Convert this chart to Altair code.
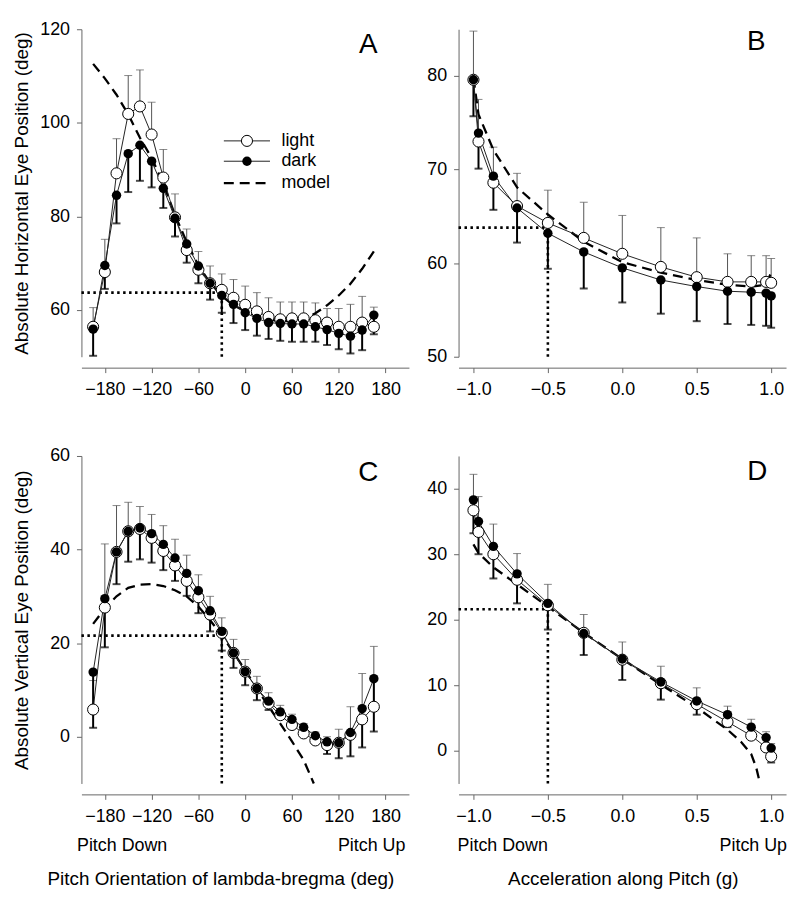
import altair as alt
import pandas as pd

FONT = "Liberation Sans"

# ---------------- Panel A : horizontal eye position vs pitch orientation ----------------
A_x = [-195, -180, -165, -150, -135, -120, -105, -90, -75, -60, -45, -30, -15,
       0, 15, 30, 45, 60, 75, 90, 105, 120, 135, 150, 165]
A_light = [56.4, 68.1, 89.2, 101.9, 103.5, 97.5, 88.3, 79.8, 72.8, 68.6, 65.7, 64.3, 62.6,
           61.1, 59.7, 58.5, 58.0, 58.2, 58.2, 57.8, 57.3, 56.4, 56.4, 57.3, 56.4]
A_light_hi = [60.5, 75.1, 96.6, 110.1, 111.3, 104.4, 94.3, 84.8, 77.3, 72.5, 69.4, 67.7, 66.5,
              65.1, 63.7, 62.6, 61.7, 61.7, 61.7, 61.5, 60.3, 60.3, 61.2, 62.9, 60.6]
A_dark = [55.9, 69.5, 84.5, 93.4, 95.2, 91.8, 86.0, 79.6, 74.1, 69.4, 65.7, 63.1, 61.2,
          59.4, 58.2, 57.3, 57.1, 57.0, 57.0, 56.4, 55.8, 55.0, 54.4, 55.7, 58.9]
A_dark_lo = [50.2, 64.5, 78.5, 85.2, 87.6, 86.2, 81.8, 75.7, 70.1, 65.7, 62.2, 59.4, 57.2,
             55.7, 54.5, 53.8, 53.4, 53.2, 53.2, 53.2, 52.5, 51.6, 50.7, 51.4, 54.8]
A_model_x = A_x
A_model = [112.6, 109.5, 106.0, 101.8, 96.8, 92.5, 87.0, 80.3, 74.5, 69.5, 65.8, 63.0, 61.0,
           59.7, 58.7, 58.0, 57.6, 57.6, 58.0, 59.3, 61.0, 63.1, 65.6, 68.8, 72.5]
A_ref = (-30, 63.7)

# ---------------- Panel B : horizontal eye position vs acceleration ----------------
B_x = [-1.0, -0.966, -0.866, -0.707, -0.5, -0.259, 0.0, 0.259, 0.5, 0.707, 0.866, 0.966, 1.0]
B_light = [79.6, 73.0, 68.6, 66.1, 64.3, 62.7, 61.0, 59.6, 58.5, 58.0, 58.0, 58.0, 57.9]
B_light_hi = [84.8, 77.5, 72.4, 69.6, 67.8, 66.5, 65.1, 63.8, 62.7, 61.0, 60.8, 60.8, 60.5]
B_dark = [79.6, 73.9, 69.3, 65.9, 63.2, 61.2, 59.5, 58.2, 57.5, 57.0, 56.9, 56.8, 56.5]
B_dark_lo = [75.7, 70.1, 65.7, 62.2, 59.4, 57.3, 55.8, 54.6, 53.8, 53.5, 53.4, 53.3, 53.1]
B_model_x = B_x
B_model = [79.8, 75.9, 72.1, 68.1, 65.2, 62.3, 60.1, 59.0, 58.2, 57.7, 57.5, 57.7, 59.0]
B_ref = (-0.5, 63.8)

# ---------------- Panel C : vertical eye position vs pitch orientation ----------------
C_x = A_x
C_light = [5.8, 27.6, 39.5, 43.9, 44.4, 42.5, 39.7, 36.6, 33.3, 29.8, 26.1, 22.2, 17.9,
           13.9, 10.3, 7.1, 4.6, 2.5, 0.7, -0.8, -1.8, -1.3, 0.4, 3.7, 6.4]
C_light_hi = [12.0, 41.2, 49.4, 50.1, 49.2, 47.5, 45.1, 42.2, 38.8, 34.6, 30.0, 25.4, 20.8,
              16.5, 12.9, 9.4, 6.7, 4.8, 2.8, 1.0, 0.0, 1.6, 6.4, 13.5, 19.3]
C_dark = [13.8, 29.5, 39.5, 43.9, 44.6, 43.4, 41.1, 38.2, 34.9, 31.2, 26.9, 22.5, 17.9,
          13.9, 10.3, 7.6, 5.3, 3.7, 2.0, 0.2, -1.1, -1.3, 0.9, 6.0, 12.4]
C_dark_lo = [1.9, 19.1, 32.6, 37.4, 37.9, 37.2, 35.6, 33.3, 30.1, 26.4, 22.5, 18.4, 14.7,
             11.0, 7.8, 5.7, 3.9, 2.5, 0.7, -1.4, -3.7, -4.6, -4.2, -2.3, 1.1]
C_model_x = [-195, -180, -165, -150, -135, -120, -105, -90, -75, -60, -45, -30, -15,
             0, 15, 30, 45, 60, 75, 88]
C_model = [24.1, 27.4, 30.0, 31.8, 32.5, 32.6, 32.2, 31.3, 30.0, 27.8, 24.9, 21.6, 18.0,
           14.2, 10.3, 6.5, 2.8, -1.0, -5.0, -10.0]
C_ref = (-30, 21.6)

# ---------------- Panel D : vertical eye position vs acceleration ----------------
D_x = B_x
D_light = [36.7, 33.4, 30.0, 26.1, 22.2, 18.0, 13.9, 10.3, 7.1, 4.4, 2.3, 0.5, -0.9]
D_light_hi = [42.2, 38.8, 34.6, 30.1, 25.4, 20.8, 16.6, 12.9, 9.6, 6.8, 4.8, 2.9, 1.1]
D_dark = [38.3, 35.0, 31.2, 27.0, 22.5, 17.9, 14.0, 10.5, 7.6, 5.5, 3.6, 2.0, 0.4]
D_dark_lo = [33.2, 30.0, 26.3, 22.5, 18.5, 14.6, 10.8, 7.8, 5.5, 3.6, 2.0, 0.3, -1.8]
D_model_x = [-1.0, -0.966, -0.866, -0.707, -0.5, -0.259, 0.0, 0.259, 0.5, 0.707, 0.8, 0.866, 0.9, 0.925]
D_model = [31.5, 30.2, 28.0, 25.4, 22.0, 18.0, 14.0, 10.1, 6.6, 3.2, 1.3, -0.5, -2.6, -5.0]
D_ref = (-0.5, 21.6)

# ---------------- Axes / labels ----------------
ANGLE_TICKS = [-180, -120, -60, 0, 60, 120, 180]
ACC_TICKS = [-1.0, -0.5, 0.0, 0.5, 1.0]
A_YTICKS = [60, 80, 100, 120]
B_YTICKS = [50, 60, 70, 80]
C_YTICKS = [0, 20, 40, 60]
D_YTICKS = [0, 10, 20, 30, 40]
LEGEND_LABELS = ["light", "dark", "model"]
W, H = 330, 330


def panel(x, light, light_hi, dark, dark_lo, mx, my, ref, xdom, ydom, xticks, yticks,
          xfmt, ytitle, letter, letter_xy, legend=False, bottom=None):
    df = pd.DataFrame({"x": x, "light": light, "light_hi": light_hi,
                       "dark": dark, "dark_lo": dark_lo})
    mdf = pd.DataFrame({"x": mx, "y": my})
    xs = alt.Scale(domain=xdom, nice=False, zero=False)
    ys = alt.Scale(domain=ydom, nice=False, zero=False)
    xaxis = alt.Axis(values=xticks, format=xfmt, title=None, offset=11)
    if ytitle:
        yaxis = alt.Axis(values=yticks, title=ytitle, titleX=-60, titleY=H / 2,
                         titleAngle=-90, titleBaseline="middle", titleAlign="center")
    else:
        yaxis = alt.Axis(values=yticks, title=None)
    X = alt.X("x:Q", scale=xs, axis=xaxis)

    refdf_h = pd.DataFrame({"x": [xdom[0]], "x2": [ref[0]], "y": [ref[1]]})
    refdf_v = pd.DataFrame({"x": [ref[0]], "y": [ydom[0]], "y2": [ref[1]]})
    dot = dict(strokeDash=[2.5, 3.5], strokeWidth=2.6, color="black")
    ref_h = alt.Chart(refdf_h).mark_rule(**dot).encode(
        x=X, x2="x2:Q", y=alt.Y("y:Q", scale=ys, axis=yaxis))
    ref_v = alt.Chart(refdf_v).mark_rule(**dot).encode(
        x=X, y=alt.Y("y:Q", scale=ys, axis=yaxis), y2="y2:Q")

    model = alt.Chart(mdf).mark_line(strokeDash=[10, 6], strokeWidth=2.3, color="black").encode(
        x=X, y=alt.Y("y:Q", scale=ys, axis=yaxis))

    base = alt.Chart(df)
    Yl = alt.Y("light:Q", scale=ys, axis=yaxis)
    Yd = alt.Y("dark:Q", scale=ys, axis=yaxis)
    err_l = base.mark_rule(color="#555555", strokeWidth=1).encode(x=X, y=Yl, y2="light_hi:Q")
    cap_l = base.mark_tick(orient="horizontal", size=8, thickness=1, color="#555555").encode(
        x=X, y=alt.Y("light_hi:Q", scale=ys, axis=yaxis))
    err_d = base.mark_rule(color="black", strokeWidth=2).encode(x=X, y=Yd, y2="dark_lo:Q")
    cap_d = base.mark_tick(orient="horizontal", size=8, thickness=2, color="black").encode(
        x=X, y=alt.Y("dark_lo:Q", scale=ys, axis=yaxis))
    line_l = base.mark_line(color="#222222", strokeWidth=1).encode(x=X, y=Yl)
    line_d = base.mark_line(color="#222222", strokeWidth=1).encode(x=X, y=Yd)
    pts_l = base.mark_point(shape="circle", filled=True, fill="white", stroke="black",
                            strokeWidth=1, size=125, opacity=1).encode(x=X, y=Yl)
    pts_d = base.mark_circle(size=90, color="black", opacity=1).encode(x=X, y=Yd)

    letter_df = pd.DataFrame({"t": [letter]})
    let = alt.Chart(letter_df).mark_text(fontSize=28, font=FONT, align="center",
                                         baseline="middle").encode(
        text="t:N", x=alt.value(letter_xy[0]), y=alt.value(letter_xy[1]))

    layers = [ref_h, ref_v, err_l, cap_l, err_d, cap_d, model, line_l, line_d, pts_l, pts_d, let]

    if legend:
        rows_y = [112.5, 133, 155]
        for lab, yy in zip(LEGEND_LABELS, rows_y):
            one = pd.DataFrame({"t": [lab]})
            c1 = alt.Chart(one)
            if lab == "model":
                layers.append(c1.mark_rule(strokeDash=[10, 6], strokeWidth=2.3, color="black").encode(
                    x=alt.value(143.5), x2=alt.value(190), y=alt.value(yy)))
            else:
                layers.append(c1.mark_rule(strokeWidth=1, color="#222222").encode(
                    x=alt.value(143.5), x2=alt.value(190), y=alt.value(yy)))
                if lab == "light":
                    layers.append(c1.mark_point(shape="circle", filled=True, fill="white",
                                                stroke="black", strokeWidth=1, size=125,
                                                opacity=1).encode(
                        x=alt.value(166.8), y=alt.value(yy)))
                else:
                    layers.append(c1.mark_circle(size=90, color="black", opacity=1).encode(
                        x=alt.value(166.8), y=alt.value(yy)))
            layers.append(c1.mark_text(fontSize=18, font=FONT, align="left",
                                       baseline="middle").encode(
                text="t:N", x=alt.value(201.5), y=alt.value(yy)))

    if bottom:
        left_lab, right_lab, title, lx, rx, tx = bottom
        layers.append(alt.Chart(pd.DataFrame({"t": [left_lab]})).mark_text(
            fontSize=18, font=FONT, align="left", baseline="middle").encode(
            text="t:N", x=alt.value(lx), y=alt.value(393)))
        layers.append(alt.Chart(pd.DataFrame({"t": [right_lab]})).mark_text(
            fontSize=18, font=FONT, align="right", baseline="middle").encode(
            text="t:N", x=alt.value(rx), y=alt.value(393)))
        layers.append(alt.Chart(pd.DataFrame({"t": [title]})).mark_text(
            fontSize=19, font=FONT, align="center", baseline="middle").encode(
            text="t:N", x=alt.value(tx), y=alt.value(426)))

    return alt.layer(*layers).properties(width=W, height=H)


pA = panel(A_x, A_light, A_light_hi, A_dark, A_dark_lo, A_model_x, A_model, A_ref,
           [-210, 210], [50, 120], ANGLE_TICKS, A_YTICKS, "d",
           "Absolute Horizontal Eye Position (deg)", "A", (289, 16), legend=True)
pB = panel(B_x, B_light, B_light_hi, B_dark, B_dark_lo, B_model_x, B_model, B_ref,
           [-1.1, 1.1], [50, 85], ACC_TICKS, B_YTICKS, ".1f", None, "B", (300, 13))
pC = panel(C_x, C_light, C_light_hi, C_dark, C_dark_lo, C_model_x, C_model, C_ref,
           [-210, 210], [-10, 60], ANGLE_TICKS, C_YTICKS, "d",
           "Absolute Vertical Eye Position (deg)", "C", (289, 17),
           bottom=("Pitch Down", "Pitch Up", "Pitch Orientation of lambda-bregma (deg)",
                   -4.5, 326.5, 140.5))
pD = panel(D_x, D_light, D_light_hi, D_dark, D_dark_lo, D_model_x, D_model, D_ref,
           [-1.1, 1.1], [-5, 45], ACC_TICKS, D_YTICKS, ".1f", None, "D", (301, 16),
           bottom=("Pitch Down", "Pitch Up", "Acceleration along Pitch (g)",
                   -1, 331, 166))

chart = alt.concat(pA, pB, pC, pD, columns=2,
                   spacing={"row": 100, "column": 50},
                   bounds="flush").properties(
    padding={"left": 5, "top": 9, "right": 5, "bottom": 5},
    background="white",
).configure_view(stroke=None).configure_axis(
    labelFont=FONT, titleFont=FONT, labelFontSize=18, titleFontSize=19,
    titleFontWeight="normal", labelColor="black", titleColor="black",
    domainColor="#666666", tickColor="#666666", tickSize=5, grid=False,
).configure_axisX(labelPadding=8).configure_axisY(labelPadding=7)

chart.save("out.html", embed_options={"renderer": "svg", "actions": False})
